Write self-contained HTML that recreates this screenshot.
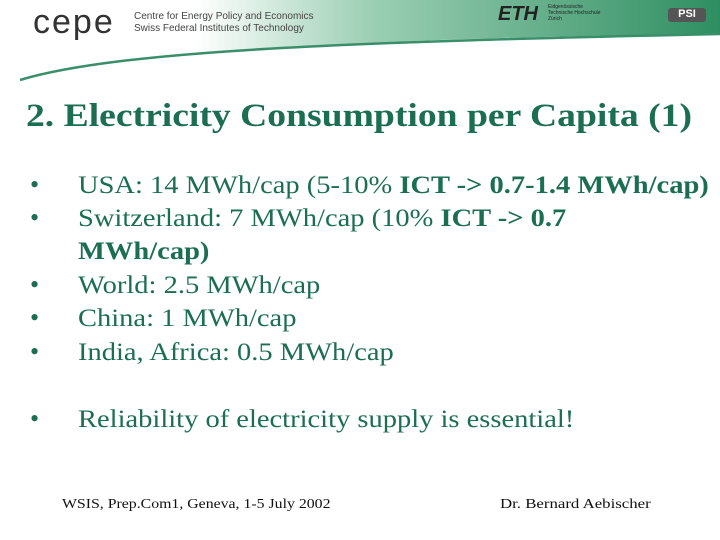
<!DOCTYPE html>
<html><head><meta charset="utf-8"><style>
body{margin:0;width:720px;height:540px;background:#fff;position:relative;overflow:hidden;font-family:"Liberation Serif",serif}
.t{position:absolute;white-space:nowrap;color:#1b6e52;transform-origin:0 0}
.b{position:absolute;font-size:25px;color:#1b6e52;white-space:nowrap;transform:scaleX(1.14);transform-origin:0 0}
.dot{position:absolute;left:30px;font-size:26px;color:#1b6e52}
</style></head><body>
<svg width="720" height="100" style="position:absolute;left:0;top:0">
<defs><linearGradient id="g" x1="0" x2="1" y1="0" y2="0">
<stop offset="0.25" stop-color="#fff"/><stop offset="0.5" stop-color="#9ccfb4"/><stop offset="1" stop-color="#2e8e62"/></linearGradient></defs>
<path d="M200 0 L720 0 L720 34 C520 36 250 42 60 70 C40 73 25 76 20 80 C80 50 170 40 200 38 Z" fill="url(#g)"/>
<path d="M20 80 C120 50 350 42 720 34" stroke="#3a8f6a" stroke-width="2.5" fill="none"/>
</svg>
<div style="position:absolute;left:33px;top:3px;font-family:'Liberation Sans',sans-serif;font-size:34px;color:#333;letter-spacing:2px">cepe</div>
<div style="position:absolute;left:134px;top:11px;font-family:'Liberation Sans',sans-serif;font-size:10px;line-height:12px;color:#444">Centre for Energy Policy and Economics<br>Swiss Federal Institutes of Technology</div>
<div style="position:absolute;left:498px;top:3px;font-family:'Liberation Sans',sans-serif;font-size:20px;font-weight:bold;font-style:italic;color:#222">ETH</div>
<div style="position:absolute;left:548px;top:4px;font-family:'Liberation Sans',sans-serif;font-size:5px;line-height:6px;color:#222">Eidgenössische<br>Technische Hochschule<br>Zürich</div>
<div style="position:absolute;left:668px;top:8px;width:38px;height:14px;background:#555;color:#fff;font:bold 11px 'Liberation Sans',sans-serif;text-align:center;border-radius:3px">PSI</div>
<div class="t" style="left:26px;top:98px;font-size:33px;font-weight:bold;transform:scaleX(1.14)">2. Electricity Consumption per Capita (1)</div>
<div>
<span class="dot" style="top:170px">•</span><div class="b" style="left:78px;top:172px">USA: 14 MWh/cap (5-10% <b>ICT -&gt; 0.7-1.4 MWh/cap)</b></div>
<span class="dot" style="top:203px">•</span><div class="b" style="left:78px;top:205px">Switzerland: 7 MWh/cap (10% <b>ICT -&gt; 0.7</b></div>
<div class="b" style="left:78px;top:238px"><b>MWh/cap)</b></div>
<span class="dot" style="top:270px">•</span><div class="b" style="left:78px;top:272px">World: 2.5 MWh/cap</div>
<span class="dot" style="top:303px">•</span><div class="b" style="left:78px;top:305px">China: 1 MWh/cap</div>
<span class="dot" style="top:337px">•</span><div class="b" style="left:78px;top:339px">India, Africa: 0.5 MWh/cap</div>
<span class="dot" style="top:404px">•</span><div class="b" style="left:78px;top:406px">Reliability of electricity supply is essential!</div>
</div>
<div class="t" style="left:62px;top:497px;font-size:14px;color:#111;transform:scaleX(1.13)">WSIS, Prep.Com1, Geneva, 1-5 July 2002</div>
<div class="t" style="left:500px;top:497px;font-size:14px;color:#111;transform:scaleX(1.2)">Dr. Bernard Aebischer</div>
</body></html>
